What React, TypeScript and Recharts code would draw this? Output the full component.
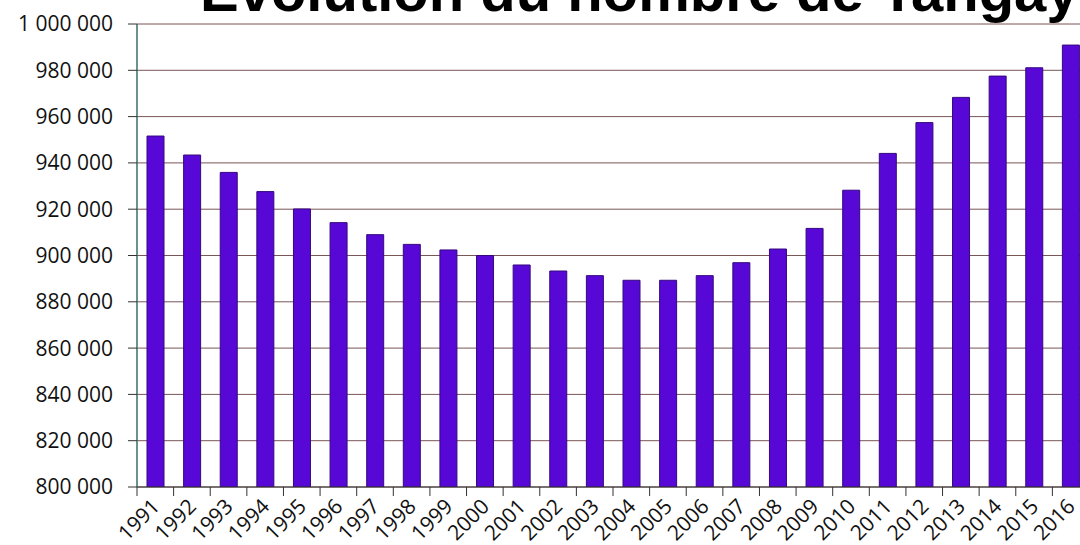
import React from "react";
import { BarChart, Bar, XAxis, YAxis, CartesianGrid } from "recharts";

const years = [
  "1991", "1992", "1993", "1994", "1995", "1996", "1997", "1998", "1999", "2000",
  "2001", "2002", "2003", "2004", "2005", "2006", "2007", "2008", "2009", "2010",
  "2011", "2012", "2013", "2014", "2015", "2016",
];
const counts = [
  951600, 943400, 935900, 927600, 920100, 914200, 909000, 904800, 902400, 900000,
  895900, 893300, 891300, 889300, 889300, 891300, 896900, 902800, 911700, 928200,
  944100, 957400, 968300, 977500, 981100, 990900,
];
const yTicks = [800000, 820000, 840000, 860000, 880000, 900000, 920000, 940000, 960000, 980000, 1000000];
const title = "Évolution du nombre de Tangay";

const data = years.map((year, i) => ({ year, count: counts[i] }));

const CHART_W = 1100;
const CHART_H = 545;
const Y_AXIS_W = 137;
const MARGIN = { top: 24, right: 11, bottom: 0, left: 0 };
const BAND = (CHART_W - Y_AXIS_W - MARGIN.right - MARGIN.left) / years.length;

const BAR_COLOR = "#5708d6";
const BAR_EDGE = "#35087e";
const GRID_COLOR = "#7a5656";
const LABEL_FONT = "'Open Sans', 'Noto Sans', sans-serif";

const fmt = (v: number) => String(v).replace(/\B(?=(\d{3})+(?!\d))/g, " ");

// excel-style ticks sit between categories, label hangs under the bar
function YearTick(props: any) {
  const { x, y, payload } = props;
  const edge = x - BAND / 2;
  const ty = y + 15;
  return (
    <g>
      <line x1={edge} x2={edge} y1={y} y2={y + 9} stroke="#333" strokeWidth={1} />
      <text
        x={x}
        y={ty}
        transform={`rotate(-45, ${x}, ${ty})`}
        textAnchor="end"
        dominantBaseline="central"
        fontSize={21}
        fontFamily={LABEL_FONT}
        fill="#111"
      >
        {payload.value}
      </text>
    </g>
  );
}

export default function App() {
  return (
    <div
      style={{
        position: "absolute",
        left: 0,
        top: 0,
        width: 1080,
        height: 545,
        overflow: "hidden",
        background: "#fff",
      }}
    >
      <BarChart width={CHART_W} height={CHART_H} data={data} margin={MARGIN}>
        <CartesianGrid vertical={false} stroke={GRID_COLOR} strokeWidth={1} />
        <XAxis
          dataKey="year"
          interval={0}
          height={58}
          tickLine={false}
          tickSize={0}
          tickMargin={0}
          stroke="#333"
          tick={<YearTick />}
        />
        <YAxis
          width={Y_AXIS_W}
          domain={[800000, 1000000]}
          ticks={yTicks}
          allowDataOverflow
          tickFormatter={fmt}
          tickSize={9}
          tickMargin={15}
          axisLine={{ stroke: "#3d6e66", strokeWidth: 1.5 }}
          tickLine={{ stroke: "#333" }}
          tick={{ fontSize: 21, fill: "#111", fontFamily: LABEL_FONT }}
        />
        <Bar
          dataKey="count"
          fill={BAR_COLOR}
          stroke={BAR_EDGE}
          strokeWidth={1}
          barSize={17}
          isAnimationActive={false}
        />
      </BarChart>
      <svg
        width={1080}
        height={40}
        style={{ position: "absolute", left: 0, top: 0, pointerEvents: "none" }}
      >
        <text
          x={200}
          y={11}
          fontSize={58}
          fontWeight="bold"
          fontFamily="'Liberation Sans', Arial, sans-serif"
          fill="#000"
        >
          {title}
        </text>
      </svg>
    </div>
  );
}
